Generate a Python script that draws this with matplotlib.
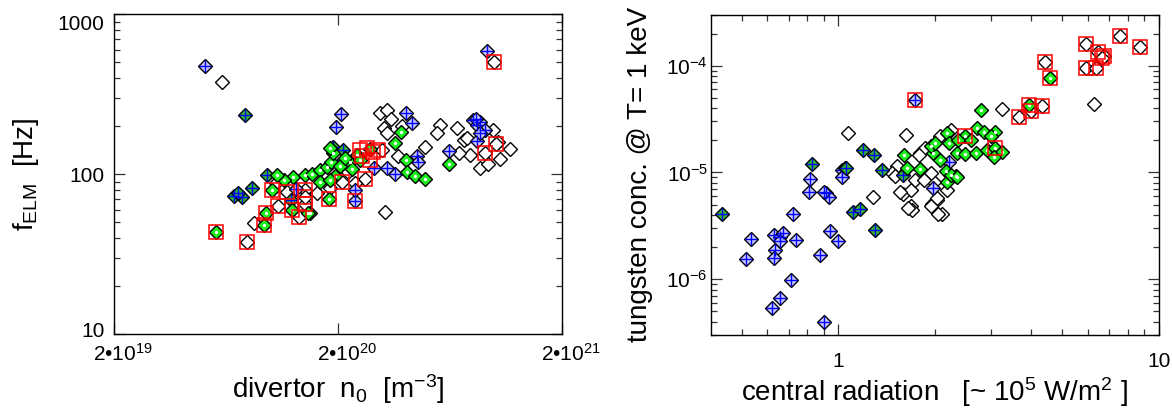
import numpy as np
import matplotlib.pyplot as plt
import matplotlib.transforms as mtransforms
from matplotlib.ticker import FixedLocator, NullFormatter, LogLocator

plt.rcParams['font.family'] = ['Liberation Sans', 'DejaVu Sans']
plt.rcParams['mathtext.fontset'] = 'custom'
plt.rcParams['mathtext.rm'] = 'Liberation Sans'
plt.rcParams['mathtext.it'] = 'Liberation Sans:italic'
plt.rcParams['mathtext.bf'] = 'Liberation Sans:bold'

# ---- left panel: ELM frequency vs divertor neutral density (x in 1e20 m^-3, y in Hz)
left_open_x = [0.605, 0.84, 1.05, 1.08, 1.18, 0.78, 1.33, 1.42, 2.63, 2.07, 3.07, 3.3, 3.45,
               3.2, 3.3, 3.85, 3.7, 3.15, 4.88, 3.22, 5.69, 5.5, 6.75, 7.3, 7.74, 6.9, 7.5,
               9.8, 11.7, 10.5, 8.58, 9.3, 10.3, 1.6, 1.84, 2.2, 2.38, 9.9, 10.1, 9.04,
               1.42, 1.42]
left_open_y = [376, 49.4, 88.5, 63.4, 78, 37.6, 54.3, 80, 94, 90, 241, 252, 222,
               194, 180, 200, 131, 142, 148, 58.5, 203, 180, 196, 164, 132, 136, 168,
               189, 143, 124, 110, 116, 160, 76, 82, 104, 88, 503, 154, 136,
               65, 72]
left_blue_x = [0.51, 2.05, 1.95, 4.0, 4.26, 4.5, 4.55, 2.9, 3.58, 2.37, 2.38, 6.25, 8.3,
               8.0, 8.3, 8.6, 9.0, 8.6, 8.2, 9.2, 1.30, 2.1, 3.3]
left_blue_y = [475, 237, 197, 241, 208, 131, 120, 109, 101, 68.5, 80, 140, 161,
               218, 203, 212, 189, 180, 221, 592, 81, 123, 109]
left_gblue_x = [0.77, 0.687, 0.745, 0.71, 0.824, 0.964, 1.23, 1.9, 2.1]
left_gblue_y = [235, 73, 72, 76, 82.5, 99, 69, 149, 142]
left_green_x = [0.567, 1.25, 1.01, 0.948, 0.935, 1.24, 1.49, 1.42, 1.53, 1.65, 1.78, 1.86,
                1.90, 1.84, 1.94, 1.66, 1.82, 2.04, 2.26, 2.42, 2.77, 1.84, 3.58, 3.8,
                4.0, 4.05, 4.4, 4.9, 6.25, 1.15, 1.07, 2.5, 2.15, 2.3, 1.47]
left_green_y = [43.6, 96.6, 80, 57, 48.2, 60, 57.5, 99, 101, 106, 111, 120,
                135, 146, 97, 90, 70, 112, 120, 132, 144, 92, 158, 185,
                123, 103, 98, 94, 116, 92, 99, 123, 126, 108, 57]
left_red_x = [0.567, 0.78, 1.01, 0.948, 0.935, 1.08, 1.18, 1.33, 1.42, 1.42, 1.42, 2.63,
              2.07, 1.82, 2.37, 10.1, 9.04, 9.9, 2.5, 2.7, 2.85, 3.0, 2.77, 2.55, 1.24]
left_red_y = [43.6, 37.6, 80, 57, 48.2, 63.4, 78, 54.3, 80, 72, 65, 94,
              90, 70, 68.5, 154, 136, 503, 142, 146, 138, 142, 123, 130, 60]

# ---- right panel: tungsten concentration vs central radiation (x in 1e5 W/m^2)
right_open_x = [1.07, 1.28, 1.63, 1.52, 1.47, 1.59, 1.68, 1.68, 1.70, 1.65, 1.96, 2.11,
                2.03, 1.99, 2.18, 1.56, 1.80, 1.87, 2.08, 2.24, 1.78, 1.50, 1.74, 1.94,
                2.05, 2.03, 1.94, 1.85, 3.25, 3.66, 3.98, 4.33, 4.42, 5.9, 5.9, 6.38,
                6.45, 6.75, 6.65, 7.58, 8.72, 6.27]
right_open_y = [2.33e-5, 5.9e-6, 2.25e-5, 1.15e-5, 9.9e-6, 6.3e-6, 6.9e-6, 4.8e-6, 4.45e-6,
                4.6e-6, 5.1e-6, 4.1e-6, 5.5e-6, 8.2e-6, 6.8e-6, 6.6e-6, 1.52e-5, 1.7e-5,
                2.2e-5, 2.5e-5, 1.45e-5, 9.3e-6, 8.5e-6, 4.8e-6, 4.1e-6, 5.7e-6, 9.9e-6,
                8.5e-6, 3.9e-5, 3.3e-5, 3.8e-5, 4.2e-5, 1.09e-4, 1.59e-4, 9.6e-5, 9.45e-5,
                1.35e-4, 1.23e-4, 1.17e-4, 1.9e-4, 1.49e-4, 4.37e-5]
right_blue_x = [0.516, 0.533, 0.628, 0.636, 0.631, 0.659, 0.674, 0.656, 0.722, 0.739, 0.711,
                0.623, 0.659, 0.904, 0.874, 0.818, 0.808, 0.917, 0.933, 0.9, 0.944, 1.0,
                1.03, 1.05, 1.03, 1.74, 1.98, 2.22]
right_blue_y = [1.55e-6, 2.37e-6, 2.6e-6, 1.88e-6, 1.57e-6, 2.48e-6, 2.7e-6, 2.3e-6, 4.1e-6,
                2.33e-6, 9.9e-7, 5.4e-7, 6.7e-7, 4.0e-7, 1.7e-6, 8.7e-6, 6.6e-6, 6.4e-6,
                5.9e-6, 6.6e-6, 2.8e-6, 2.3e-6, 1.06e-5, 1.1e-5, 9.1e-6, 4.77e-5, 7.2e-6,
                1.26e-5]
right_gblue_x = [0.434, 0.828, 1.06, 1.19, 1.29, 1.37, 1.11, 1.17, 1.30, 1.59]
right_gblue_y = [4.06e-6, 1.2e-5, 1.1e-5, 1.63e-5, 1.45e-5, 1.05e-5, 4.3e-6, 4.5e-6, 2.9e-6, 9.5e-6]
right_green_x = [1.6, 1.64, 1.80, 1.97, 1.94, 2.0, 2.18, 2.21, 2.16, 2.18, 2.32, 2.35, 2.49,
                 2.68, 2.78, 2.71, 2.85, 2.91, 3.09, 3.07, 3.25, 3.06, 2.49, 2.37, 3.92,
                 4.57, 2.24, 2.35, 2.08, 2.59, 2.99]
right_green_y = [1.45e-5, 1.1e-5, 1.08e-5, 1.52e-5, 1.75e-5, 1.88e-5, 2.33e-5, 1.88e-5,
                 1.02e-5, 8.2e-6, 9.2e-6, 1.52e-5, 1.49e-5, 1.52e-5, 3.85e-5, 2.6e-5,
                 2.4e-5, 1.63e-5, 2.4e-5, 1.69e-5, 1.56e-5, 1.4e-5, 2.2e-5, 2.03e-5,
                 4.3e-5, 7.7e-5, 9.5e-6, 9.1e-6, 1.3e-5, 2.0e-5, 2.2e-5]
right_red_x = [1.74, 3.07, 2.49, 3.92, 4.57, 3.66, 3.98, 4.33, 4.42, 5.9, 5.9, 6.38, 6.45,
               6.75, 6.65, 7.58, 8.72]
right_red_y = [4.77e-5, 1.69e-5, 2.2e-5, 4.3e-5, 7.7e-5, 3.3e-5, 3.8e-5, 4.2e-5, 1.09e-4,
               1.59e-4, 9.6e-5, 9.45e-5, 1.35e-4, 1.23e-4, 1.17e-4, 1.9e-4, 1.49e-4]

DMS = 7.4


def scatter_groups(ax, xo, yo, xb, yb, xgb, ygb, xg, yg, xr, yr):
    ax.plot(xo, yo, 'D', ms=DMS, mfc='white', mec='black', mew=1.0, ls='none')
    ax.plot(xb, yb, 'D', ms=DMS, mfc='#c8c8ff', mec='black', mew=1.0, ls='none')
    ax.plot(xb, yb, '+', ms=9, mec='blue', mew=1.0, ls='none')
    ax.plot(xgb, ygb, 'D', ms=DMS, mfc='#2eb82e', mec='black', mew=1.0, ls='none')
    ax.plot(xgb, ygb, '+', ms=9, mec='blue', mew=1.0, ls='none')
    ax.plot(xg, yg, 'D', ms=DMS, mfc='#1aee1a', mec='black', mew=1.0, ls='none')
    ax.plot(xg, yg, 'o', ms=2.4, mfc='white', mec='none', ls='none')
    ax.plot(xr, yr, 's', ms=10.5, mfc='none', mec='red', mew=1.1, ls='none')


def shift_label(fig, label, dx_px, dy_px):
    off = mtransforms.ScaledTranslation(dx_px / fig.dpi, dy_px / fig.dpi, fig.dpi_scale_trans)
    label.set_transform(label.get_transform() + off)


W, H = 1172, 412
fig = plt.figure(figsize=(W / 100, H / 100), dpi=100)
ax1 = fig.add_axes([114.3 / W, 1 - 334.3 / H, (562.3 - 114.3) / W, 320 / H])
ax2 = fig.add_axes([710.7 / W, 1 - 335 / H, (1159 - 710.7) / W, 320.3 / H])

e20 = 1e20
scatter_groups(ax1,
               np.array(left_open_x) * e20, left_open_y,
               np.array(left_blue_x) * e20, left_blue_y,
               np.array(left_gblue_x) * e20, left_gblue_y,
               np.array(left_green_x) * e20, left_green_y,
               np.array(left_red_x) * e20, left_red_y)
scatter_groups(ax2, right_open_x, right_open_y, right_blue_x, right_blue_y,
               right_gblue_x, right_gblue_y, right_green_x, right_green_y,
               right_red_x, right_red_y)

for ax in (ax1, ax2):
    ax.set_xscale('log')
    ax.set_yscale('log')
    ax.tick_params(which='both', direction='in', top=True, right=True, labelsize=15,
                   width=0.9, color='#333333')
    ax.tick_params(which='major', length=8)
    ax.tick_params(which='minor', length=4)
    for s in ax.spines.values():
        s.set_linewidth(1.0)

# left axes
ax1.set_xlim(2e19, 2e21)
ax1.set_ylim(10, 1000)
ax1.xaxis.set_major_locator(FixedLocator([2e19, 2e20, 2e21]))
ax1.set_xticklabels(['2•10$^{19}$', '2•10$^{20}$', '2•10$^{21}$'])
ax1.xaxis.set_minor_locator(FixedLocator([]))
ax1.yaxis.set_major_locator(FixedLocator([10, 100, 1000]))
ax1.set_yticklabels(['10', '100', '1000'])
ax1.yaxis.set_minor_locator(LogLocator(base=10, subs=np.arange(2, 10)))
ax1.yaxis.set_minor_formatter(NullFormatter())
ax1.tick_params(axis='x', pad=6)
ax1.tick_params(axis='y', pad=7)
ax1.set_xlabel('divertor  n$_0$  [m$^{-3}$]', fontsize=20)
ax1.set_ylabel('f$_{\\rm ELM}$  [Hz]', fontsize=20)
ax1.xaxis.set_label_coords(0.5, -0.12)
ax1.yaxis.set_label_coords(-0.164, 0.5)

# right axes
ax2.set_xlim(0.4, 10)
ax2.set_ylim(3e-7, 3e-4)
ax2.xaxis.set_major_locator(FixedLocator([1, 10]))
ax2.set_xticklabels(['1', '10'])
ax2.xaxis.set_minor_locator(FixedLocator([0.5, 0.6, 0.7, 0.8, 0.9, 2, 3, 4, 5, 6, 7, 8, 9]))
ax2.xaxis.set_minor_formatter(NullFormatter())
ax2.yaxis.set_major_locator(FixedLocator([1e-6, 1e-5, 1e-4]))
ax2.set_yticklabels(['10$^{-6}$', '10$^{-5}$', '10$^{-4}$'])
ax2.yaxis.set_minor_locator(LogLocator(base=10, subs=np.arange(2, 10)))
ax2.yaxis.set_minor_formatter(NullFormatter())
ax2.tick_params(axis='x', pad=12)
ax2.tick_params(axis='y', pad=2)
ax2.set_xlabel('central radiation   [~ 10$^5$ W/m$^2$ ]', fontsize=20)
ax2.set_ylabel('tungsten conc. @ T= 1 keV', fontsize=20)
ax2.xaxis.set_label_coords(0.5, -0.125)
ax2.yaxis.set_label_coords(-0.129, 0.5)

# IDL-like label placement: x labels centred on the mantissa, end y labels pulled inward
fig.canvas.draw()
for lab in ax1.get_xticklabels():
    shift_label(fig, lab, 9, 0)
ylabs = ax1.get_yticklabels()
shift_label(fig, ylabs[0], 0, 5)
shift_label(fig, ylabs[2], 0, -8)

fig.savefig('out.png', dpi=100)
